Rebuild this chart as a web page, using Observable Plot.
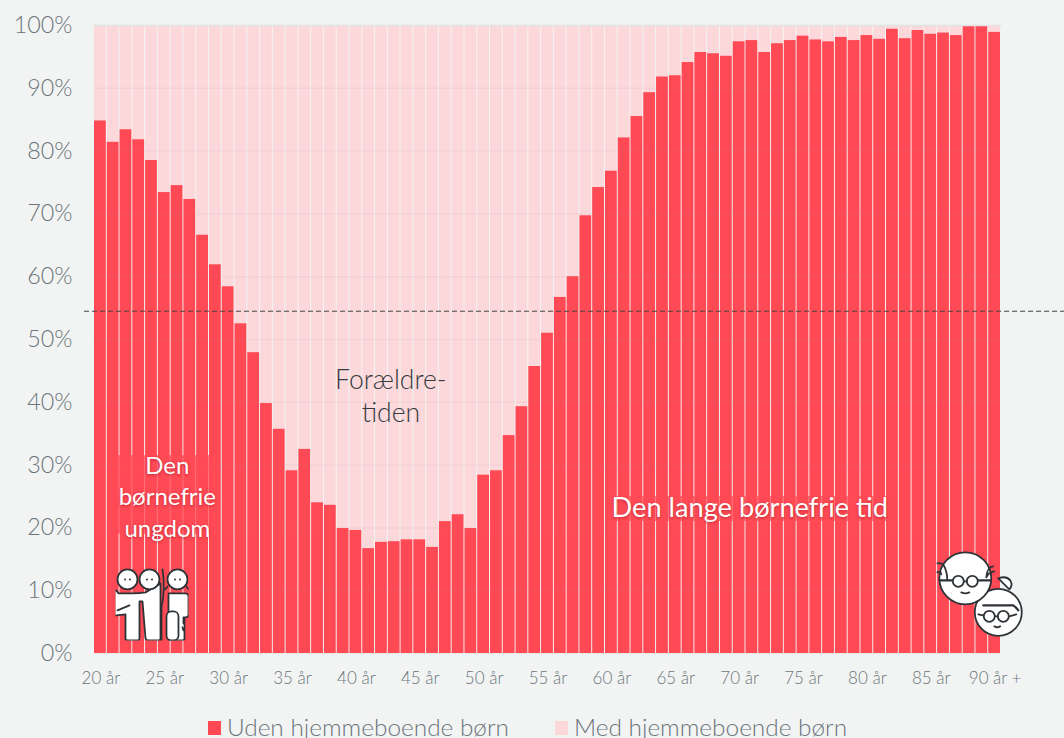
<!DOCTYPE html>
<html lang="da"><head><meta charset="utf-8">
<script src="https://cdn.jsdelivr.net/npm/d3@7"></script>
<script src="https://cdn.jsdelivr.net/npm/@observablehq/plot@0.6"></script>
<style>
html,body{margin:0;padding:0;background:#f2f4f4;width:1064px;height:738px;overflow:hidden;font-family:Lato,sans-serif;font-weight:300}
#chart svg{display:block;background:transparent;overflow:visible}
#legend{position:relative;height:38px;color:#6b757a;font-size:24.4px;font-weight:300;line-height:28px}
#legend span{position:absolute;top:13px;white-space:nowrap}
#legend i{position:absolute;top:21px;width:13px;height:14px}
.anno text,text.anno{text-shadow:0 1px 3px rgba(120,0,10,.45)}
</style></head><body>
<div id="chart"></div>
<div id="legend"></div>
<script>
const ages = d3.range(20, 91);
const utenBoern = [84.8,81.4,83.4,81.8,78.5,73.4,74.5,72.3,66.6,61.9,58.4,52.5,47.9,39.8,35.7,29.1,32.5,24.0,23.6,19.9,19.6,16.7,17.7,17.8,18.1,18.1,16.9,21.0,22.1,19.9,28.4,29.1,34.7,39.3,45.7,51.0,56.7,60.0,69.7,74.2,76.8,82.1,85.5,89.3,91.8,92.0,94.1,95.7,95.5,95.1,97.4,97.6,95.7,97.1,97.6,98.3,97.7,97.4,98.1,97.6,98.4,97.8,99.4,97.9,99.2,98.6,98.8,98.4,100,100,98.9];
const yTicks = [0,10,20,30,40,50,60,70,80,90,100];
const xTicks = [20,25,30,35,40,45,50,55,60,65,70,75,80,85,90];
const averageLine = [54.5];
const seriesNames = ["Uden hjemmeboende børn","Med hjemmeboende børn"];
const red = "#ff4a55", pink = "#fdd8db", ink = "#2e3338";

const rows = ages.map((a,i)=>({age:a, v:utenBoern[i]}));

const svgUri = s => "data:image/svg+xml;utf8," + encodeURIComponent(s);
const friends = svgUri(`<svg xmlns="http://www.w3.org/2000/svg" viewBox="0 0 73 73"><g fill="#fff" stroke="${ink}" stroke-width="1.8" stroke-linejoin="round" stroke-linecap="round">
<path d="M53 26h17q3 0 3 3v18q0 3-3 3h-1v21q0 2-2 2h-14z"/>
<path d="M3 26h14q8 0 13-1l15-9v55q0 2-2 2h-10q-2 0-3-2l-3-37h-3v37q0 2-2 2h-10q-2 0-2-2v-24l-9 1q-2 0-2-2v-20q0-3 2-3z" />
<path d="M2 43l12-5M47 2q3 20-1 38v33" fill="none"/>
<rect x="51" y="44" width="12" height="29" rx="5"/>
<circle cx="12" cy="12" r="10"/><circle cx="34" cy="12" r="10"/><circle cx="62" cy="12" r="10"/>
<path d="M52 19q-2 3-3 3M71 19q2 4 4 4M68 50v6M67 60l1 3" fill="none"/></g>
<g fill="${ink}"><circle cx="9.500" cy="12" r="1"/><circle cx="14.500" cy="12" r="1"/><circle cx="31.500" cy="12" r="1"/><circle cx="36.500" cy="12" r="1"/><circle cx="59.500" cy="12" r="1"/><circle cx="64.500" cy="12" r="1"/></g></svg>`);
const elders = svgUri(`<svg xmlns="http://www.w3.org/2000/svg" viewBox="0 0 87 87"><g stroke="${ink}" stroke-width="1.8" fill="#fff" stroke-linecap="round">
<path d="M62 28q8-3 12 2q3 5-1 9z"/>
<circle cx="62" cy="62" r="23.500"/>
<path d="M47 55h30q3 2 5 5" fill="none" stroke-width="2.200"/>
<circle cx="53" cy="66" r="5.500"/><circle cx="67" cy="66" r="5.500"/><path d="M58.500 66h3M42 64l5 1M73 66l7-2M58 76q3 2 6 0" fill="none"/>
<circle cx="29" cy="28" r="26"/>
<path d="M8 16q3 6 3 14M1 13q5-1 7 3M57 16q-6 0-7 11M50 27q2-5 8-6M1 22q3-2 4 2" fill="none"/>
<path d="M3 30h15M40 30h14" fill="none" stroke-width="2.200"/>
<circle cx="22" cy="31" r="5.500"/><circle cx="36" cy="31" r="5.500"/><path d="M27.500 31h3M25 42q4 2 8 0" fill="none"/></g></svg>`);

const plot = Plot.plot({
  width: 1064, height: 700,
  marginTop: 25, marginBottom: 47, marginLeft: 94, marginRight: 63,
  style: {background:"transparent", fontFamily:"Lato, sans-serif", fontWeight:300, overflow:"visible"},
  x: {domain:[19.5,90.5], label:null},
  y: {domain:[0,100], label:null},
  marks: [
    Plot.rect(rows,{x1:d=>d.age-.5,x2:d=>d.age+.5,y1:0,y2:100,fill:pink,insetRight:1}),
    Plot.rect(rows,{x1:d=>d.age-.5,x2:d=>d.age+.5,y1:0,y2:"v",fill:red,insetRight:1}),
    Plot.ruleY(yTicks,{stroke:"#8a8f92",strokeOpacity:0.08,strokeWidth:1.5}),
    Plot.ruleY([100],{stroke:"#e3e5e5",strokeWidth:1.5}),
    Plot.rect([{}],{x1:21.3,x2:29.2,y1:19,y2:31.5,fill:red,fillOpacity:.75}),
    Plot.rect([{}],{x1:60.2,x2:81.9,y1:21,y2:25,fill:red,fillOpacity:.7}),
    Plot.ruleY(averageLine,{x1:18.72,x2:95.5,stroke:"#444",strokeWidth:1,strokeDasharray:"5,3"}),
    Plot.text(["Forældre-\ntiden"],{x:42.7,y:41.2,fill:"#333a40",fontSize:26.5,fontWeight:300,lineHeight:1.27,lineAnchor:"middle"}),
    Plot.text(["Den\nbørnefrie\nungdom"],{x:25.2,y:25.2,fill:"#fff",fontSize:24,fontWeight:400,lineHeight:1.33,lineAnchor:"middle",className:"anno"}),
    Plot.text(["Den lange børnefrie tid"],{x:70.8,y:23.2,fill:"#fff",fontSize:27.2,fontWeight:400,lineAnchor:"middle",className:"anno"}),
    Plot.image([{}],{x:24.0,y:7.9,src:()=>friends,width:73,height:73}),
    Plot.image([{}],{x:88.8,y:9.5,src:()=>elders,width:87,height:87}),
    Plot.axisY({ticks:yTicks,tickSize:0,tickPadding:22,tickFormat:d=>d+"%",fontSize:23.3,fontWeight:300,color:"#6b757a",label:null}),
    Plot.axisX({ticks:xTicks,tickSize:0,tickPadding:18,fontSize:17,fontWeight:300,color:"#6b757a",label:null,
      tickFormat:d=>d===90?"90 år +":d+" år"})
  ]
});
document.getElementById("chart").append(plot);
const lg = document.getElementById("legend");
[[208,red,seriesNames[0]],[555,pink,seriesNames[1]]].forEach(([x,c,t])=>{
  const i=document.createElement("i");i.style.left=x+"px";i.style.background=c;lg.append(i);
  const s=document.createElement("span");s.style.left=(x+19)+"px";s.textContent=t;lg.append(s);
});
</script></body></html>
